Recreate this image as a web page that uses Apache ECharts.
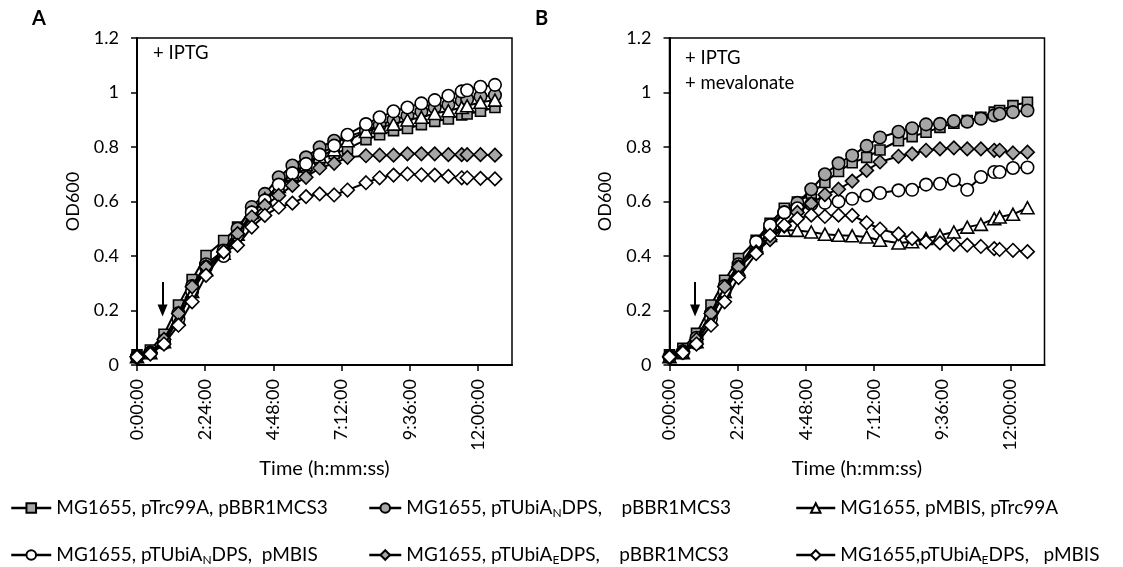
<!DOCTYPE html>
<html><head><meta charset="utf-8">
<script src="https://cdn.jsdelivr.net/npm/echarts@6/dist/echarts.min.js"></script>
<style>html,body{margin:0;padding:0;background:#fff}#c{width:1123px;height:567px}</style>
</head><body><div id="c"></div>
<script>
// ---- data (time in hours) ----
const TIME_H = [0, 0.47, 0.95, 1.46, 1.94, 2.43, 3.05, 3.54, 4.04, 4.5, 4.99, 5.47, 5.95, 6.43, 6.94, 7.41, 8.06, 8.54, 9.03, 9.52, 10.01, 10.48, 10.96, 11.43, 11.62, 12.09, 12.6];
const X_TICKS_H = [0, 2.4, 4.8, 7.2, 9.6, 12];
const SERIES_NAMES = [
  'MG1655, pTrc99A, pBBR1MCS3',
  'MG1655, pTUbiA_N DPS, pBBR1MCS3',
  'MG1655, pMBIS, pTrc99A',
  'MG1655, pTUbiA_N DPS, pMBIS',
  'MG1655, pTUbiA_E DPS, pBBR1MCS3',
  'MG1655, pTUbiA_E DPS, pMBIS'
];
const LEGEND_LABELS = [
  'MG1655, pTrc99A, pBBR1MCS3',
  'MG1655, pTUbiA{sub|N}DPS,    pBBR1MCS3',
  'MG1655, pMBIS, pTrc99A',
  'MG1655, pTUbiA{sub|N}DPS,  pMBIS',
  'MG1655, pTUbiA{sub|E}DPS,    pBBR1MCS3',
  'MG1655,pTUbiA{sub|E}DPS,   pMBIS'
];
// Panel A: + IPTG
const A_TRC_BBR   = [0.037, 0.055, 0.113, 0.22, 0.314, 0.402, 0.457, 0.506, 0.567, 0.61, 0.65, 0.69, 0.725, 0.755, 0.775, 0.793, 0.827, 0.845, 0.86, 0.868, 0.882, 0.894, 0.903, 0.918, 0.921, 0.931, 0.945];
const A_UBIAN_BBR = [0.03, 0.045, 0.09, 0.19, 0.29, 0.37, 0.42, 0.5, 0.58, 0.628, 0.689, 0.732, 0.762, 0.799, 0.823, 0.838, 0.86, 0.88, 0.9, 0.915, 0.93, 0.945, 0.955, 0.97, 0.975, 0.985, 0.99];
const A_MBIS_TRC  = [0.03, 0.045, 0.085, 0.17, 0.27, 0.35, 0.41, 0.48, 0.56, 0.61, 0.655, 0.7, 0.735, 0.765, 0.79, 0.823, 0.857, 0.872, 0.884, 0.899, 0.909, 0.923, 0.933, 0.945, 0.951, 0.964, 0.972];
const A_UBIAN_MBIS= [0.03, 0.045, 0.08, 0.17, 0.27, 0.36, 0.4, 0.476, 0.56, 0.604, 0.662, 0.704, 0.738, 0.772, 0.805, 0.845, 0.884, 0.909, 0.931, 0.945, 0.96, 0.972, 0.988, 1.004, 1.008, 1.021, 1.028];
const A_UBIAE_BBR = [0.03, 0.045, 0.094, 0.189, 0.287, 0.36, 0.415, 0.482, 0.543, 0.585, 0.622, 0.659, 0.689, 0.723, 0.74, 0.762, 0.768, 0.77, 0.77, 0.775, 0.775, 0.775, 0.772, 0.772, 0.772, 0.772, 0.77];
const A_UBIAE_MBIS= [0.03, 0.04, 0.077, 0.146, 0.232, 0.329, 0.415, 0.439, 0.506, 0.549, 0.579, 0.594, 0.618, 0.628, 0.624, 0.642, 0.669, 0.687, 0.697, 0.701, 0.698, 0.697, 0.692, 0.687, 0.687, 0.685, 0.683];
// Panel B: + IPTG + mevalonate
const B_TRC_BBR   = [0.037, 0.061, 0.116, 0.22, 0.311, 0.391, 0.458, 0.52, 0.575, 0.598, 0.63, 0.67, 0.71, 0.742, 0.762, 0.789, 0.823, 0.838, 0.854, 0.872, 0.887, 0.897, 0.909, 0.928, 0.934, 0.952, 0.964];
const B_UBIAN_BBR = [0.03, 0.05, 0.1, 0.19, 0.29, 0.37, 0.43, 0.5, 0.56, 0.595, 0.645, 0.7, 0.74, 0.769, 0.804, 0.835, 0.856, 0.869, 0.883, 0.885, 0.895, 0.893, 0.904, 0.916, 0.922, 0.928, 0.934];
const B_MBIS_TRC  = [0.03, 0.045, 0.085, 0.17, 0.27, 0.35, 0.43, 0.475, 0.495, 0.494, 0.488, 0.48, 0.476, 0.474, 0.47, 0.458, 0.448, 0.452, 0.464, 0.476, 0.488, 0.506, 0.516, 0.537, 0.543, 0.553, 0.577];
const B_UBIAN_MBIS= [0.03, 0.045, 0.08, 0.17, 0.27, 0.36, 0.452, 0.513, 0.56, 0.575, 0.59, 0.595, 0.6, 0.61, 0.622, 0.631, 0.641, 0.643, 0.662, 0.665, 0.678, 0.643, 0.69, 0.708, 0.708, 0.723, 0.725];
const B_UBIAE_BBR = [0.03, 0.05, 0.094, 0.189, 0.287, 0.36, 0.415, 0.46, 0.51, 0.56, 0.592, 0.625, 0.645, 0.675, 0.714, 0.745, 0.766, 0.775, 0.788, 0.793, 0.797, 0.793, 0.793, 0.788, 0.788, 0.778, 0.781];
const B_UBIAE_MBIS= [0.03, 0.045, 0.077, 0.146, 0.232, 0.321, 0.409, 0.476, 0.513, 0.537, 0.55, 0.545, 0.55, 0.549, 0.522, 0.499, 0.481, 0.464, 0.452, 0.448, 0.443, 0.44, 0.435, 0.427, 0.424, 0.421, 0.416];
const INDUCTION_H = 0.9;

const PANEL_A = [A_TRC_BBR, A_UBIAN_BBR, A_MBIS_TRC, A_UBIAN_MBIS, A_UBIAE_BBR, A_UBIAE_MBIS];
const PANEL_B = [B_TRC_BBR, B_UBIAN_BBR, B_MBIS_TRC, B_UBIAN_MBIS, B_UBIAE_BBR, B_UBIAE_MBIS];

// ---- styles ----
const GRAY = '#a6a6a6', INK = '#000';
const FONT = 'Lato';
const MARKERS = [
  {symbol: 'rect', size: 10, fill: GRAY},
  {symbol: 'circle', size: 12.5, fill: GRAY},
  {symbol: 'triangle', size: [13, 12], fill: '#fff'},
  {symbol: 'circle', size: 12.5, fill: '#fff'},
  {symbol: 'diamond', size: 13.5, fill: GRAY},
  {symbol: 'diamond', size: 13.5, fill: '#fff'}
];

function hms(v) {
  const totalMin = Math.round(v * 60);
  const h = Math.floor(totalMin / 60), m = totalMin % 60;
  return h + ':' + String(m).padStart(2, '0') + ':00';
}

function makeSeries(panelData, idx) {
  return panelData.map((arr, i) => {
    const s = {
      name: SERIES_NAMES[i],
      type: 'line',
      xAxisIndex: idx, yAxisIndex: idx,
      data: TIME_H.map((t, k) => [t, arr[k]]),
      symbol: MARKERS[i].symbol,
      symbolSize: MARKERS[i].size,
      showAllSymbol: true,
      lineStyle: {color: INK, width: 2},
      itemStyle: {color: MARKERS[i].fill, borderColor: INK, borderWidth: 1.6},
      emphasis: {disabled: true},
      z: 2 + i
    };
    if (i === 0) {
      s.markLine = {
        silent: true, animation: false,
        symbol: ['none', 'triangle'], symbolSize: [10, 12],
        lineStyle: {color: INK, width: 2, type: 'solid'},
        itemStyle: {color: INK},
        label: {show: false},
        data: [[{coord: [INDUCTION_H, 0.305]}, {coord: [INDUCTION_H, 0.2]}]]
      };
    }
    return s;
  });
}

function xAxis(idx) {
  return {
    type: 'value', gridIndex: idx, min: 0, max: 13.2,
    axisLine: {show: true, onZero: false, lineStyle: {color: INK, width: 2}},
    axisTick: {show: true, inside: false, length: 6, customValues: X_TICKS_H, lineStyle: {color: INK, width: 1.5}},
    axisLabel: {customValues: X_TICKS_H, rotate: 90, margin: 14, formatter: hms, fontFamily: FONT, fontSize: 18, color: INK},
    splitLine: {show: false},
    name: 'Time (h:mm:ss)', nameLocation: 'middle', nameGap: 90,
    nameTextStyle: {fontFamily: FONT, fontSize: 20, color: INK}
  };
}
function yAxis(idx) {
  return {
    type: 'value', gridIndex: idx, min: 0, max: 1.2, interval: 0.2,
    axisLine: {show: true, lineStyle: {color: INK, width: 2}},
    axisTick: {show: true, inside: false, length: 6, lineStyle: {color: INK, width: 1.5}},
    axisLabel: {margin: 18, fontFamily: FONT, fontSize: 18, color: INK},
    splitLine: {show: false},
    name: 'OD600', nameLocation: 'middle', nameGap: 55,
    nameTextStyle: {fontFamily: FONT, fontSize: 18, color: INK}
  };
}

function legend(left, top, width, name) {
  return {
    left: left, top: top, orient: 'horizontal', padding: 0,
    itemWidth: width, itemHeight: 12, itemGap: 0,
    data: [name], selectedMode: false,
    lineStyle: {width: 2.5},
    formatter: n => LEGEND_LABELS[SERIES_NAMES.indexOf(n)],
    textStyle: {fontFamily: FONT, fontSize: 19, color: INK, lineHeight: 22,
      rich: {sub: {fontFamily: FONT, fontSize: 12, color: INK, verticalAlign: 'bottom', lineHeight: 12}}}
  };
}

const grids = [
  {left: 137, top: 38, width: 375, height: 327},
  {left: 669.5, top: 38, width: 375, height: 327}
].map(g => Object.assign(g, {show: true, borderColor: INK, borderWidth: 1.5, backgroundColor: 'transparent'}));

const option = {
  animation: false,
  backgroundColor: '#fff',
  grid: grids,
  xAxis: [xAxis(0), xAxis(1)],
  yAxis: [yAxis(0), yAxis(1)],
  legend: [
    legend(10, 497, 40, SERIES_NAMES[0]),
    legend(368, 497, 32, SERIES_NAMES[1]),
    legend(795, 497, 39, SERIES_NAMES[2]),
    legend(10, 544, 40, SERIES_NAMES[3]),
    legend(368, 544, 32, SERIES_NAMES[4]),
    legend(795, 544, 39, SERIES_NAMES[5])
  ],
  graphic: [
    {type: 'text', left: 32, top: 9, style: {text: 'A', font: 'bold 20px Lato', fill: INK}},
    {type: 'text', left: 535, top: 9, style: {text: 'B', font: 'bold 20px Lato', fill: INK}},
    {type: 'text', left: 153, top: 44, style: {text: '+ IPTG', font: '18.5px Lato', fill: INK}},
    {type: 'text', left: 685, top: 49, style: {text: '+ IPTG', font: '18.5px Lato', fill: INK}},
    {type: 'text', left: 685, top: 74, style: {text: '+ mevalonate', font: '18.5px Lato', fill: INK}}
  ],
  series: [...makeSeries(PANEL_A, 0), ...makeSeries(PANEL_B, 1)]
};

const chart = echarts.init(document.getElementById('c'), null, {renderer: 'canvas'});
chart.setOption(option);
</script></body></html>
